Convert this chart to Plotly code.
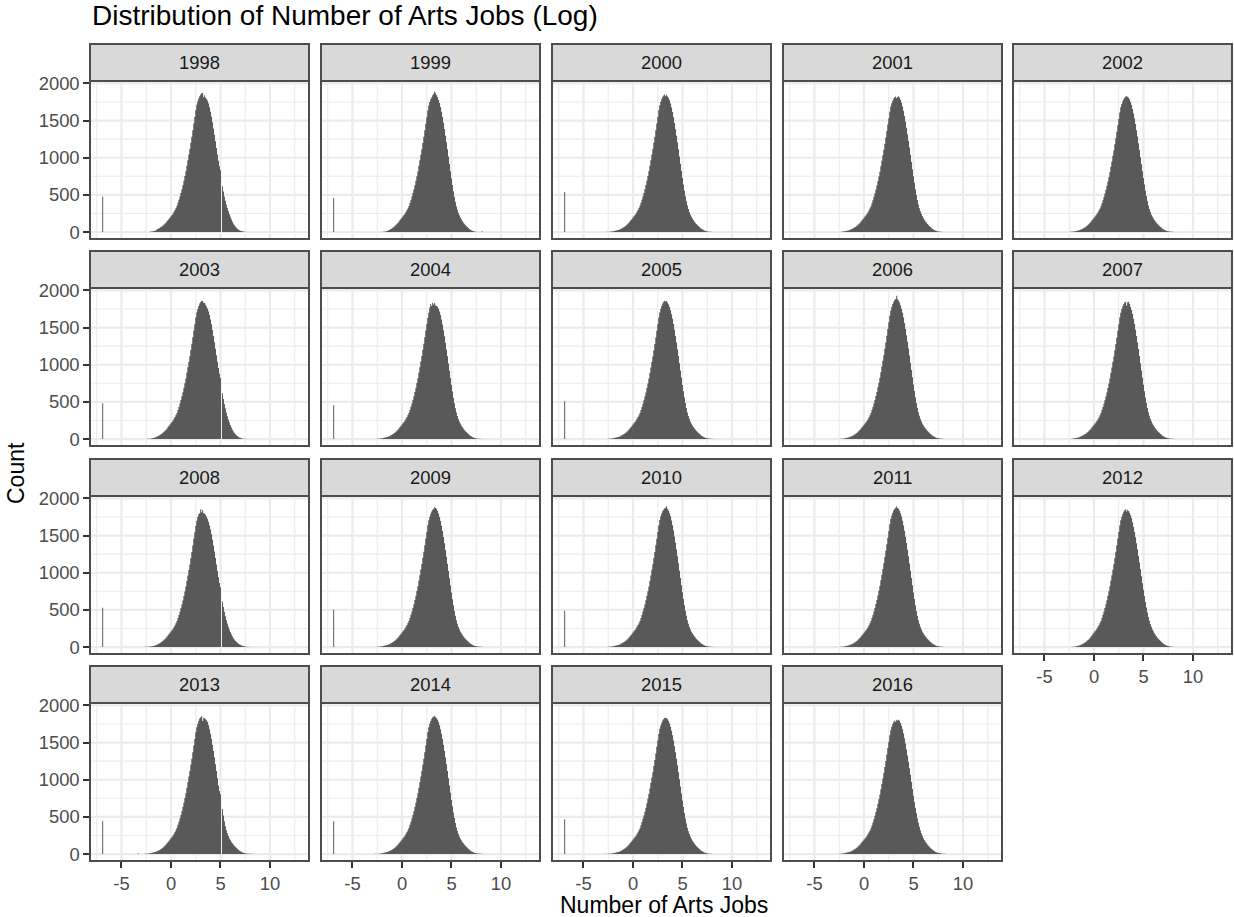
import plotly.graph_objects as go

# ---- data: histogram of log(number of arts jobs), one panel per year ----
YEARS = [1998, 1999, 2000, 2001, 2002, 2003, 2004, 2005, 2006, 2007,
         2008, 2009, 2010, 2011, 2012, 2013, 2014, 2015, 2016]

BIN_START = -3.4      # centre of the first regular bin
BIN_WIDTH = 0.1

# isolated bin holding the log of the smallest (placeholder) values
SPIKE_X = -6.9
SPIKE_COUNTS = [475, 460, 540, 0, 0, 482, 455, 509, 0, 0,
                529, 502, 490, 0, 0, 446, 440, 470, 0]

COUNTS_1998 = [0,0,0,0,0,0,0,0,0,0,
    0,0,0,5,7,9,12,15,19,24,
    39,45,52,60,69,78,89,102,115,130,
    145,164,180,197,214,231,251,273,298,324,
    353,394,435,480,526,577,632,692,753,818,
    893,967,1042,1116,1200,1283,1371,1460,1548,1637,
    1712,1760,1796,1826,1850,1866,1870,1815,1842,1810,
    1790,1766,1730,1680,1620,1552,1476,1394,1308,1220,
    1130,1045,960,885,830,0,615,545,480,420,
    370,325,282,242,206,173,143,117,95,76,
    60,46,35,26,19,14,10,7,5,3,
    2,1,0,0,0,0,0,0,0,0,
    0,0,0,0]

COUNTS_1999 = [0,0,0,0,0,0,0,0,0,0,
    0,0,0,0,0,4,6,9,12,16,
    21,27,34,42,51,61,72,84,98,112,
    127,143,162,178,195,212,229,249,271,296,
    322,351,392,433,478,524,575,630,690,751,
    816,891,965,1040,1114,1198,1281,1369,1458,1546,
    1634,1704,1750,1786,1812,1840,1862,1890,1866,1842,
    1815,1778,1736,1682,1620,1549,1470,1386,1297,1207,
    1113,1015,916,818,722,634,550,475,408,349,
    300,260,226,197,172,150,130,112,96,81,
    67,54,43,33,25,18,13,9,6,4,
    2,1,0,0,0,12,0,0,0,0,
    0,0,0,0]

COUNTS_2000 = [0,0,0,0,0,0,0,0,3,0,
    4,6,7,9,11,13,17,20,24,28,
    33,39,45,52,60,69,78,89,102,115,
    130,145,164,180,197,214,231,251,273,298,
    324,353,394,435,480,526,577,632,692,753,
    818,893,967,1042,1116,1200,1283,1371,1460,1548,
    1637,1707,1752,1789,1819,1836,1850,1826,1846,1822,
    1804,1772,1730,1677,1615,1545,1466,1384,1296,1207,
    1114,1017,919,822,727,640,556,482,415,357,
    309,270,236,208,184,162,143,126,110,95,
    82,69,58,46,37,30,22,17,13,9,
    7,5,4,3,2,0,0,0,0,0,
    0,0,0,0]

COUNTS_2001 = [0,0,0,0,0,0,0,0,0,0,
    0,4,6,8,10,12,15,18,22,26,
    31,37,43,50,58,67,76,87,99,112,
    127,142,160,176,193,210,227,247,268,293,
    319,348,388,429,474,520,571,626,685,746,
    810,884,958,1032,1106,1188,1271,1358,1446,1532,
    1618,1688,1732,1768,1796,1812,1825,1800,1816,1828,
    1808,1776,1738,1688,1628,1560,1484,1402,1316,1228,
    1136,1040,943,846,750,662,576,500,432,372,
    322,281,246,216,190,167,147,129,113,97,
    83,70,58,46,37,29,22,17,12,9,
    7,5,3,2,1,1,0,0,0,0,
    0,0,0,0]

COUNTS_2002 = [0,0,0,0,0,0,0,0,0,0,
    3,4,5,7,9,11,14,17,21,25,
    30,36,42,49,57,66,75,86,98,111,
    126,141,159,175,192,209,226,246,268,292,
    318,347,387,428,472,518,568,622,681,741,
    805,878,951,1025,1098,1180,1262,1348,1436,1522,
    1610,1678,1722,1758,1788,1810,1822,1828,1820,1806,
    1782,1748,1708,1656,1596,1528,1452,1370,1284,1196,
    1104,1008,912,818,726,640,557,484,417,359,
    311,272,238,210,186,164,145,128,112,97,
    84,71,60,48,39,32,24,19,15,11,
    9,7,6,4,4,2,1,1,0,0,
    0,0,0,0]

COUNTS_2003 = [0,0,0,0,0,0,0,0,0,0,
    3,4,5,6,8,10,13,17,22,28,
    34,41,49,57,66,76,87,99,112,127,
    143,161,178,195,212,230,250,272,297,323,
    352,392,433,478,524,575,630,690,751,816,
    891,965,1040,1114,1198,1281,1369,1458,1546,1634,
    1702,1750,1790,1822,1845,1856,1862,1835,1830,1806,
    1780,1752,1716,1668,1610,1544,1468,1388,1302,1215,
    1126,1040,956,878,822,0,618,540,472,410,
    356,308,264,225,190,158,130,106,85,68,
    53,41,31,23,17,12,9,6,4,3,
    2,1,0,0,0,0,0,0,0,0,
    0,0,0,0]

COUNTS_2004 = [0,0,0,0,0,1,1,2,2,4,
    4,6,7,9,11,13,17,20,24,28,
    33,39,45,52,60,69,78,89,102,115,
    130,145,164,180,197,214,231,251,273,298,
    324,353,394,435,480,526,577,632,692,753,
    818,893,967,1042,1116,1200,1283,1371,1460,1548,
    1630,1700,1770,1818,1790,1832,1810,1830,1795,1790,
    1780,1752,1716,1668,1610,1542,1464,1382,1295,1206,
    1113,1017,919,822,727,640,556,482,415,357,
    309,270,236,208,184,162,143,126,110,95,
    82,69,58,46,37,30,22,17,13,9,
    7,5,4,3,2,1,1,0,0,0,
    0,0,0,0]

COUNTS_2005 = [0,0,0,0,0,1,1,2,2,4,
    4,6,7,9,11,13,17,20,24,28,
    33,39,45,52,60,69,78,89,102,115,
    130,145,164,180,197,214,231,251,273,298,
    322,350,390,431,476,522,573,628,688,749,
    814,889,963,1038,1112,1196,1279,1367,1456,1544,
    1634,1704,1752,1790,1822,1846,1862,1850,1858,1834,
    1810,1776,1734,1680,1618,1548,1469,1386,1298,1209,
    1116,1019,921,824,729,642,558,484,417,359,
    311,272,238,210,186,164,145,128,112,97,
    84,71,60,48,39,32,24,19,15,11,
    9,7,6,4,4,2,1,1,0,0,
    0,0,0,0]

COUNTS_2006 = [0,0,0,0,0,0,0,0,0,0,
    3,4,5,7,9,11,14,17,21,25,
    30,36,42,49,57,66,75,86,98,111,
    126,141,159,175,192,209,226,246,268,292,
    320,350,390,432,478,526,578,634,696,758,
    824,900,976,1052,1128,1214,1300,1390,1480,1570,
    1660,1730,1778,1816,1848,1870,1884,1929,1880,1864,
    1836,1798,1754,1698,1634,1562,1482,1398,1308,1218,
    1124,1026,928,830,734,646,561,487,420,361,
    313,273,239,211,187,165,146,129,113,98,
    85,72,61,49,40,32,25,19,15,11,
    9,7,6,4,4,2,1,1,0,0,
    0,0,0,0]

COUNTS_2007 = [0,0,0,0,0,0,0,0,0,0,
    0,4,6,8,10,12,15,18,22,26,
    31,37,43,50,58,67,76,87,99,112,
    127,142,160,176,193,210,227,247,268,293,
    321,350,390,431,476,522,573,628,688,749,
    814,889,963,1038,1112,1196,1279,1367,1456,1544,
    1634,1700,1748,1786,1816,1836,1848,1795,1840,1848,
    1816,1778,1736,1682,1620,1550,1471,1388,1300,1211,
    1118,1021,923,826,731,644,560,486,419,361,
    313,274,240,211,187,165,146,129,113,98,
    84,71,60,48,39,32,24,19,15,11,
    9,7,5,4,3,2,1,1,0,0,
    0,0,0,0]

COUNTS_2008 = [0,0,0,0,0,0,2,2,3,4,
    4,5,6,8,10,12,15,18,22,27,
    33,40,47,55,64,74,85,97,110,125,
    141,159,176,193,210,228,248,270,295,321,
    350,390,431,476,522,573,628,688,749,814,
    889,963,1038,1112,1196,1279,1367,1456,1544,1630,
    1698,1748,1786,1800,1855,1812,1845,1800,1798,1776,
    1752,1722,1684,1636,1580,1516,1444,1366,1284,1198,
    1110,1024,940,862,805,0,612,540,474,414,
    362,316,274,236,202,172,146,123,103,86,
    71,58,47,38,30,24,19,15,11,8,
    6,4,3,2,1,1,0,0,0,0,
    0,0,0,0]

COUNTS_2009 = [0,0,0,0,0,1,1,2,2,4,
    4,6,7,9,11,13,17,20,24,28,
    33,39,45,52,60,69,78,89,102,115,
    130,145,164,180,197,214,231,251,273,298,
    324,353,394,435,480,526,577,632,692,753,
    818,893,967,1042,1116,1200,1283,1371,1460,1548,
    1637,1707,1754,1792,1824,1848,1862,1882,1870,1858,
    1830,1794,1750,1696,1632,1560,1480,1395,1306,1216,
    1122,1024,926,828,733,645,561,487,420,361,
    313,274,240,211,187,165,146,129,113,98,
    85,72,61,49,40,32,25,19,15,11,
    9,7,6,4,4,2,1,1,0,0,
    0,0,0,0]

COUNTS_2010 = [0,0,0,0,0,1,1,2,2,4,
    4,6,7,9,11,13,17,20,24,28,
    33,39,45,52,60,69,78,89,102,115,
    130,145,164,180,197,214,231,251,273,298,
    322,351,391,432,477,523,574,629,689,750,
    815,890,964,1039,1113,1197,1280,1368,1458,1548,
    1638,1710,1758,1798,1830,1852,1866,1874,1895,1856,
    1834,1800,1758,1704,1640,1568,1488,1402,1312,1222,
    1126,1028,930,832,736,648,563,489,421,362,
    314,274,240,211,187,165,146,129,113,98,
    85,72,61,49,40,32,25,19,15,11,
    9,7,6,4,4,2,1,1,0,0,
    0,0,0,0]

COUNTS_2011 = [0,0,0,0,0,3,0,0,0,0,
    3,4,5,7,9,11,14,17,21,25,
    30,36,42,49,57,66,75,86,98,111,
    126,141,159,175,192,209,226,246,268,292,
    320,350,390,432,478,526,578,634,694,756,
    822,898,974,1050,1126,1210,1294,1382,1472,1562,
    1652,1722,1770,1808,1840,1862,1874,1895,1870,1860,
    1834,1798,1755,1700,1636,1564,1484,1399,1310,1220,
    1125,1026,928,830,734,646,561,487,420,361,
    313,273,239,211,187,165,146,129,113,98,
    85,72,61,49,40,32,25,19,15,11,
    9,7,6,4,4,2,1,1,0,0,
    0,0,0,0]

COUNTS_2012 = [0,0,0,0,0,0,0,0,0,0,
    0,0,3,4,6,8,10,13,17,21,
    26,32,39,46,54,63,73,84,96,110,
    125,141,160,178,195,212,230,250,272,297,
    323,352,392,434,479,525,576,631,691,752,
    817,892,966,1041,1115,1199,1282,1370,1459,1547,
    1636,1706,1752,1790,1820,1842,1855,1822,1848,1830,
    1808,1774,1733,1680,1620,1552,1476,1396,1312,1226,
    1138,1046,952,860,770,686,606,532,466,406,
    354,310,272,240,212,187,165,146,129,113,
    98,84,71,59,48,39,31,24,19,15,
    11,8,6,4,3,2,1,1,0,0,
    0,0,0,0]

COUNTS_2013 = [0,12,0,0,0,1,2,2,4,4,
    6,7,9,11,13,17,20,24,28,33,
    39,45,52,60,69,78,89,102,115,130,
    145,164,180,197,214,231,251,273,298,324,
    353,394,435,480,526,577,632,692,753,818,
    893,967,1042,1116,1200,1283,1371,1460,1548,1637,
    1707,1752,1792,1824,1842,1853,1790,1835,1826,1812,
    1800,1776,1734,1680,1618,1548,1469,1386,1298,1209,
    1116,1019,921,850,805,0,608,520,440,375,
    322,280,244,214,188,165,145,128,112,97,
    84,71,60,48,39,32,24,19,15,11,
    9,7,6,4,4,3,2,2,1,1,
    0,0,0,0]

COUNTS_2014 = [0,0,0,0,0,0,0,3,3,0,
    4,6,7,9,11,13,17,20,24,28,
    33,39,45,52,60,69,78,89,102,115,
    130,145,164,180,197,214,231,251,273,298,
    324,353,394,435,480,526,577,632,692,753,
    818,893,967,1042,1116,1200,1283,1371,1460,1548,
    1637,1707,1752,1789,1819,1841,1848,1862,1840,1826,
    1806,1776,1734,1680,1618,1548,1469,1386,1298,1209,
    1116,1019,921,824,729,642,558,484,417,359,
    311,272,238,210,186,164,145,128,112,97,
    84,71,60,48,39,32,24,19,15,11,
    9,7,6,4,4,3,2,2,1,1,
    0,0,0,0]

COUNTS_2015 = [0,0,0,0,0,3,0,3,0,4,
    4,6,7,9,11,13,17,20,24,28,
    33,39,45,52,60,69,78,89,102,115,
    130,145,164,180,196,212,229,248,270,294,
    320,349,389,430,474,520,570,624,683,744,
    808,882,955,1029,1102,1185,1267,1354,1442,1529,
    1616,1686,1730,1766,1796,1818,1830,1835,1828,1815,
    1790,1755,1713,1660,1598,1529,1451,1369,1282,1194,
    1102,1006,909,814,720,634,551,478,412,355,
    307,269,235,207,184,162,143,126,110,95,
    82,69,58,46,37,30,22,17,13,9,
    7,5,4,3,2,1,1,0,0,0,
    0,0,0,0]

COUNTS_2016 = [0,0,0,0,0,0,0,2,2,3,
    4,6,7,9,11,13,17,20,24,28,
    33,39,45,52,60,69,78,89,102,115,
    130,145,163,179,195,211,228,247,269,293,
    318,347,386,426,470,515,565,618,676,736,
    799,872,944,1017,1090,1172,1253,1339,1426,1512,
    1598,1667,1712,1748,1778,1798,1780,1808,1796,1806,
    1792,1762,1726,1678,1622,1558,1486,1408,1326,1242,
    1154,1062,968,876,786,702,622,548,480,420,
    366,320,280,246,216,190,168,148,130,114,
    100,86,73,61,50,41,33,26,21,16,
    13,10,8,6,5,4,3,2,2,1,
    1,1,0,0]

COUNTS = [COUNTS_1998, COUNTS_1999, COUNTS_2000, COUNTS_2001, COUNTS_2002,
          COUNTS_2003, COUNTS_2004, COUNTS_2005, COUNTS_2006, COUNTS_2007,
          COUNTS_2008, COUNTS_2009, COUNTS_2010, COUNTS_2011, COUNTS_2012,
          COUNTS_2013, COUNTS_2014, COUNTS_2015, COUNTS_2016]

X_TICKS = [-5, 0, 5, 10]
X_TICK_TEXT = ["-5", "0", "5", "10"]
X_MINOR = [-7.5, -2.5, 2.5, 7.5, 12.5]
Y_TICKS = [0, 500, 1000, 1500, 2000]
Y_TICK_TEXT = ["0", "500", "1000", "1500", "2000"]
Y_MINOR = [250, 750, 1250, 1750]

for y, c in zip(YEARS, COUNTS):
    if len(c) != 124:
        raise ValueError(f"{y}: {len(c)} bins")

# ---- page geometry (pixels) ----
W, H = 1234, 917
NCOL = 5
COL_LEFT = [90, 321, 552, 783, 1013]
PANEL_W = 219
ROW_TOP = [81, 288, 496, 703]      # top of the plotting area, under the strip
PANEL_H = 158
STRIP_H = 37

X_RANGE = [-8.18, 13.94]
Y_RANGE = [-93, 2032]

FONT = "Liberation Sans, Arial, Helvetica, sans-serif"
BAR_COLOR = "#595959"
GRID = "#EBEBEB"
FRAME = "#4D4D4D"
TICK_COLOR = "#333333"
MAJOR_W, MINOR_W = 2.2, 1.1


def step_outline(centers, counts, spike_x, spike, width):
    """Left-edge/height pairs of a histogram, for an 'hv' step trace."""
    half = width / 2
    xs = [spike_x - half, spike_x + half]
    ys = [spike, 0]
    xs += [round(c - half, 3) for c in centers]
    ys += list(counts)
    xs.append(round(centers[-1] + half, 3))
    ys.append(0)
    return xs, ys


def grid_shapes(xr, yr):
    """Background grid of one panel, drawn beneath the data."""
    out = []
    for vals, w in ((X_TICKS, MAJOR_W), (X_MINOR, MINOR_W)):
        for v in vals:
            out.append(dict(type="line", xref=xr, yref=yr + " domain",
                            x0=v, x1=v, y0=0, y1=1, layer="below",
                            line=dict(color=GRID, width=w)))
    for vals, w in ((Y_TICKS, MAJOR_W), (Y_MINOR, MINOR_W)):
        for v in vals:
            out.append(dict(type="line", xref=xr + " domain", yref=yr,
                            x0=0, x1=1, y0=v, y1=v, layer="below",
                            line=dict(color=GRID, width=w)))
    return out


fig = go.Figure()
shapes, annotations = [], []
layout = {}

n_panels = len(YEARS)
for n, (year, counts, spike) in enumerate(zip(YEARS, COUNTS, SPIKE_COUNTS)):
    row, col = divmod(n, NCOL)
    left = COL_LEFT[col]
    top = ROW_TOP[row]
    sfx = "" if n == 0 else str(n + 1)

    centers = [round(BIN_START + BIN_WIDTH * i, 1) for i in range(len(counts))]
    xs, ys = step_outline(centers, counts, SPIKE_X, spike, BIN_WIDTH)
    fig.add_trace(go.Scatter(
        x=xs, y=ys, mode="lines",
        line=dict(shape="hv", width=0, color=BAR_COLOR, simplify=False),
        fill="tozeroy", fillcolor=BAR_COLOR,
        xaxis="x" + sfx, yaxis="y" + sfx,
        showlegend=False, hoverinfo="skip",
    ))

    show_x = (n + NCOL >= n_panels)      # nothing below this panel
    show_y = (col == 0)

    layout["xaxis" + sfx] = dict(
        domain=[left / W, (left + PANEL_W) / W],
        anchor="y" + sfx, range=X_RANGE, fixedrange=True,
        tickmode="array", tickvals=X_TICKS, ticktext=X_TICK_TEXT,
        showticklabels=show_x, ticks="outside" if show_x else "",
        ticklen=5.7, tickwidth=2, tickcolor=TICK_COLOR,
        tickfont=dict(family=FONT, size=18.4, color="#4D4D4D"),
        showgrid=False, zeroline=False, showline=False,
    )
    layout["yaxis" + sfx] = dict(
        domain=[1 - (top + PANEL_H) / H, 1 - top / H],
        anchor="x" + sfx, range=Y_RANGE, fixedrange=True,
        tickmode="array", tickvals=Y_TICKS, ticktext=Y_TICK_TEXT,
        showticklabels=show_y, ticks="outside" if show_y else "",
        ticklen=5.7, tickwidth=2, tickcolor=TICK_COLOR,
        tickfont=dict(family=FONT, size=18.4, color="#4D4D4D"),
        showgrid=False, zeroline=False, showline=False,
    )

    shapes += grid_shapes("x" + sfx, "y" + sfx)

    # panel frame
    shapes.append(dict(type="rect", xref="paper", yref="paper",
                       x0=left / W, x1=(left + PANEL_W) / W,
                       y0=1 - (top + PANEL_H) / H, y1=1 - top / H,
                       line=dict(color=FRAME, width=2),
                       fillcolor="rgba(0,0,0,0)", layer="above"))
    # facet strip
    shapes.append(dict(type="rect", xref="paper", yref="paper",
                       x0=left / W, x1=(left + PANEL_W) / W,
                       y0=1 - top / H, y1=1 - (top - STRIP_H) / H,
                       line=dict(color=FRAME, width=2),
                       fillcolor="#D9D9D9", layer="above"))
    annotations.append(dict(text=str(year), xref="paper", yref="paper",
                            x=(left + PANEL_W / 2) / W,
                            y=1 - (top - STRIP_H / 2) / H,
                            xanchor="center", yanchor="middle", showarrow=False,
                            font=dict(family=FONT, size=18.4, color="#1A1A1A")))

# titles
annotations.append(dict(text="Distribution of Number of Arts Jobs (Log)",
                        xref="paper", yref="paper", x=90 / W, y=1 - 15.5 / H,
                        xanchor="left", yanchor="middle", showarrow=False,
                        font=dict(family=FONT, size=28, color="#000000")))
annotations.append(dict(text="Count", xref="paper", yref="paper",
                        x=16 / W, y=1 - 473 / H, textangle=-90,
                        xanchor="center", yanchor="middle", showarrow=False,
                        font=dict(family=FONT, size=23, color="#000000")))
annotations.append(dict(text="Number of Arts Jobs", xref="paper", yref="paper",
                        x=664 / W, y=1 - 905 / H,
                        xanchor="center", yanchor="middle", showarrow=False,
                        font=dict(family=FONT, size=23, color="#000000")))

fig.update_layout(
    width=W, height=H, autosize=False,
    margin=dict(l=0, r=0, t=0, b=0, pad=0, autoexpand=False),
    paper_bgcolor="white", plot_bgcolor="white",
    shapes=shapes, annotations=annotations,
    font=dict(family=FONT),
    **layout,
)

fig.write_html("out.html", config={"displayModeBar": False})
